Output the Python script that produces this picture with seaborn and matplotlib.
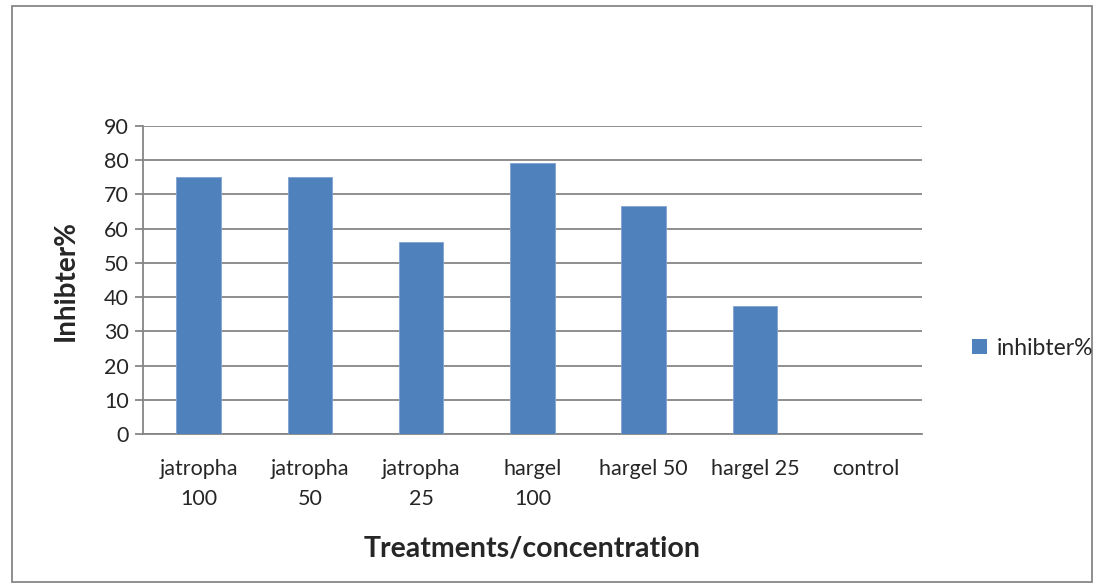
import matplotlib
matplotlib.use("Agg")
import matplotlib.pyplot as plt
import seaborn as sns
import pandas as pd
from matplotlib.patches import Rectangle, Patch

categories = ["jatropha\n100", "jatropha\n50", "jatropha\n25", "hargel\n100",
              "hargel 50", "hargel 25", "control"]
values = [75, 75, 56.25, 79.3, 66.7, 37.5, 0]
series_name = "inhibter%"

sns.set_theme(style="white")
plt.rcParams['font.family'] = ['Lato', 'DejaVu Sans']

df = pd.DataFrame({"cat": categories, "val": values})

fig = plt.figure(figsize=(11.04, 5.88), dpi=100)
ax = fig.add_axes([0.1295, 0.2619, 0.835 - 0.1295, 0.7857 - 0.2619])

sns.barplot(data=df, x="cat", y="val", color="#4F81BD", width=0.4,
            saturation=1, ax=ax, zorder=3, edgecolor="#7FA3D0", linewidth=0.6)

ax.set_ylim(0, 90)
ax.set_yticks(range(0, 91, 10))
ax.yaxis.grid(True, color="#868686", linewidth=1.3, zorder=0)
ax.set_axisbelow(True)
for s in ["top", "right"]:
    ax.spines[s].set_visible(False)
for s in ["left", "bottom"]:
    ax.spines[s].set_color("#868686")
    ax.spines[s].set_linewidth(1.3)
ax.tick_params(axis="y", which="both", left=True, length=6, width=1.3,
               color="#868686", labelsize=15.5, pad=4)
ax.tick_params(axis="x", bottom=False, labelsize=15.5, pad=12)
for t in ax.get_xticklabels():
    t.set_linespacing(1.65)

ax.set_xlabel("Treatments/concentration", fontsize=20.5, fontweight="bold", labelpad=19)
ax.set_ylabel("Inhibter%", fontsize=20, fontweight="bold", labelpad=18)

handles = [Patch(facecolor="#4F81BD", edgecolor="none", label=series_name)]
fig.legend(handles=handles, loc="center left", bbox_to_anchor=(0.862, 0.408),
           frameon=False, fontsize=16.5, handlelength=0.65, handleheight=0.65,
           handletextpad=0.4)

fig.patches.append(Rectangle((0.011, 0.011), 0.978, 0.978, transform=fig.transFigure,
                             fill=False, edgecolor="#868686", linewidth=1.3))

fig.savefig("out.png", dpi=100)
